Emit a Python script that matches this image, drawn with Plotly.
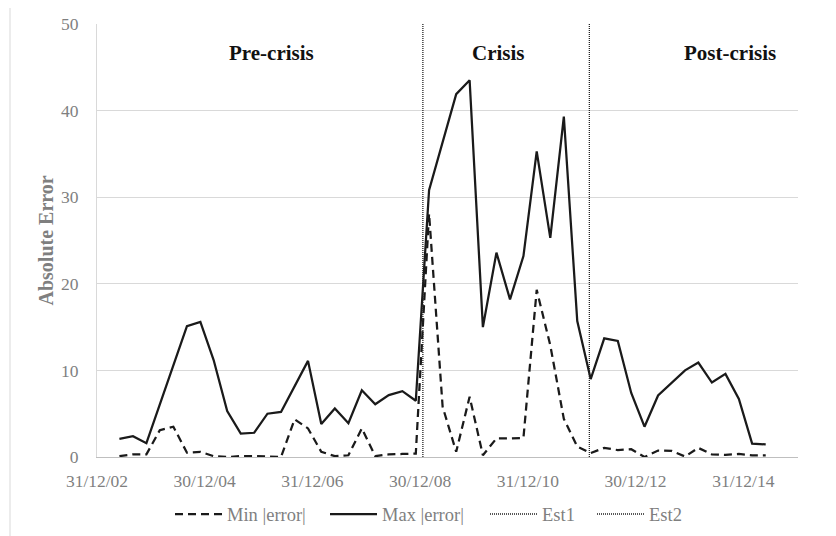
import pandas as pd
import plotly.graph_objects as go

# Quarterly observation dates (Q2 2003 .. Q2 2015)
dates = pd.date_range("2003-06-01", periods=49, freq="3MS")

min_error = [0.1, 0.3, 0.3, 3.1, 3.5, 0.5, 0.6, 0.1, 0.0, 0.1, 0.1, 0.05, 0.0,
             4.35, 3.3, 0.6, 0.1, 0.2, 3.3, 0.1, 0.3, 0.35, 0.4,
             28.1, 5.8, 0.6, 6.95, 0.2, 2.15, 2.15, 2.2, 19.3, 12.9, 4.4, 1.2,
             0.45, 1.05, 0.8, 0.9, 0.0, 0.75, 0.7, 0.05, 1.05, 0.3, 0.25, 0.35, 0.2, 0.2]
max_error = [2.1, 2.4, 1.6, 6.0, 10.7, 15.1, 15.6, 11.2, 5.3, 2.7, 2.8, 5.0, 5.2,
             8.2, 11.1, 3.8, 5.6, 3.9, 7.7, 6.1, 7.15, 7.6, 6.5,
             30.8, 36.5, 41.9, 43.5, 15.0, 23.6, 18.2, 23.2, 35.3, 25.3, 39.3, 15.7,
             9.0, 13.7, 13.4, 7.4, 3.5, 7.1, 8.5, 10.0, 10.9, 8.6, 9.6, 6.7, 1.55, 1.45]

est1_date = "2009-01-18"
est2_date = "2012-02-21"
y_span = [0, 50]

tick_dates = ["2002-12-31", "2004-12-30", "2006-12-31", "2008-12-30",
              "2010-12-31", "2012-12-30", "2014-12-31"]
tick_labels = ["31/12/02", "30/12/04", "31/12/06", "30/12/08",
               "31/12/10", "30/12/12", "31/12/14"]

period_labels = ["Pre-crisis", "Crisis", "Post-crisis"]
period_pos = [0.2493, 0.5722, 0.9035]

FONT = '"Liberation Serif", "Times New Roman", Times, serif'
GRAY = "#7f7f7f"

# page body has an 8px margin: figure coords = screen coords - 8
OFF = 8
W, H = 836, 536
L, T = 97 - OFF, 24 - OFF
pw, ph = 701, 433
R = W - L - pw
B = H - T - ph
def px2x(sx):
    return (sx - OFF - L) / pw
def py2y(sy):
    return (T + ph - (sy - OFF)) / ph

fig = go.Figure()
fig.add_trace(go.Scatter(x=dates, y=min_error, mode="lines", name="Min |error|", legend="legend",
                         line=dict(color="#1a1a1a", width=2.25, dash="8px,5px")))
fig.add_trace(go.Scatter(x=dates, y=max_error, mode="lines", name="Max |error|", legend="legend2",
                         line=dict(color="#1a1a1a", width=2.25)))
fig.add_trace(go.Scatter(x=[est1_date, est1_date], y=y_span, mode="lines", name="Est1", legend="legend3",
                         line=dict(color="#222222", width=1.3, dash="1px,1px")))
fig.add_trace(go.Scatter(x=[est2_date, est2_date], y=y_span, mode="lines", name="Est2", legend="legend4",
                         line=dict(color="#222222", width=1.3, dash="1px,1px")))

annotations = []
for lab, px in zip(period_labels, period_pos):
    annotations.append(dict(text="<b>%s</b>" % lab, x=px, y=py2y(52.5), xref="paper", yref="paper",
                            showarrow=False, xanchor="center", yanchor="middle",
                            font=dict(family=FONT, size=21, color="#111111")))
annotations.append(dict(text="<b>Absolute Error</b>", x=px2x(45), y=0.5, xref="paper", yref="paper",
                        showarrow=False, textangle=-90, xanchor="center", yanchor="middle",
                        font=dict(family=FONT, size=20, color=GRAY)))

shapes = [dict(type="rect", xref="paper", yref="paper",
               x0=px2x(10), x1=px2x(860), y0=py2y(560), y1=py2y(5),
               line=dict(color="#d9d9d9", width=1), fillcolor="rgba(0,0,0,0)", layer="below")]

def leg(start_px):
    return dict(orientation="h", x=px2x(start_px), xanchor="left", y=py2y(514.5), yanchor="middle",
                font=dict(family=FONT, size=18.5, color=GRAY), itemwidth=47,
                bgcolor="rgba(0,0,0,0)")

fig.update_layout(
    width=W, height=H,
    margin=dict(l=L, r=R, t=T, b=B, autoexpand=False),
    paper_bgcolor="white", plot_bgcolor="white",
    font=dict(family=FONT, size=18, color=GRAY),
    showlegend=True,
    legend=leg(170), legend2=leg(325), legend3=leg(485), legend4=leg(592),
    annotations=annotations,
    shapes=shapes,
)
fig.update_xaxes(type="date", range=["2002-12-31", "2016-01-06"], automargin=False,
                 tickvals=tick_dates, ticktext=tick_labels,
                 showgrid=False, zeroline=False, showline=True, linecolor="#bfbfbf", linewidth=1,
                 ticks="", ticklabelstandoff=8,
                 tickfont=dict(family=FONT, size=17.5, color=GRAY))
fig.update_yaxes(range=[0, 50], dtick=10, tick0=0, automargin=False,
                 showgrid=True, gridcolor="#d9d9d9", gridwidth=1,
                 zeroline=False, showline=True, linecolor="#d9d9d9", linewidth=1,
                 ticks="", ticklabelstandoff=14,
                 tickfont=dict(family=FONT, size=17.5, color=GRAY))

fig.write_html("out.html")
